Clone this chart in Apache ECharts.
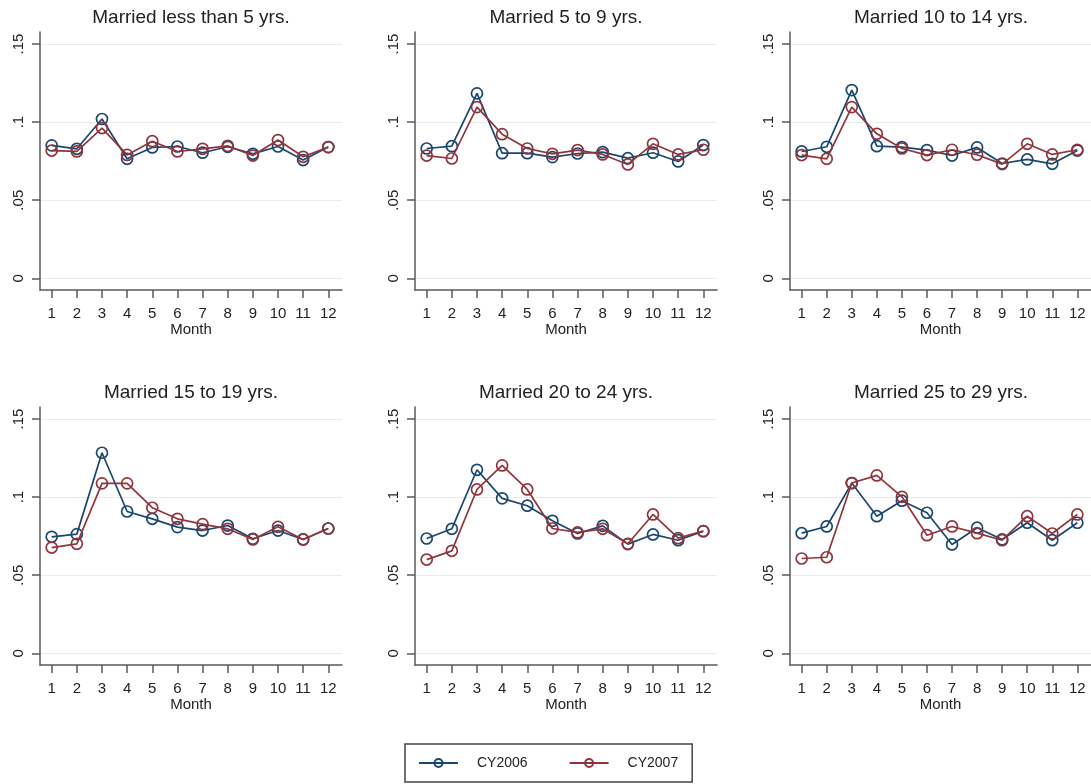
<!DOCTYPE html>
<html><head><meta charset="utf-8">
<script src="https://cdn.jsdelivr.net/npm/echarts@6/dist/echarts.min.js"></script>
<style>html,body{margin:0;padding:0;background:#fff}#c{width:1091px;height:784px}</style>
</head><body><div id="c"></div>
<script>
const months = [1,2,3,4,5,6,7,8,9,10,11,12];
const yTicks = [0, 0.05, 0.1, 0.15];
const panelTitles = ['Married less than 5 yrs.','Married 5 to 9 yrs.','Married 10 to 14 yrs.','Married 15 to 19 yrs.','Married 20 to 24 yrs.','Married 25 to 29 yrs.'];
const seriesNames = ['CY2006','CY2007'];

const lt5_2006   = [0.0851,0.0829,0.1020,0.0765,0.0838,0.0844,0.0804,0.0842,0.0797,0.0844,0.0757,0.0840];
const lt5_2007   = [0.0818,0.0812,0.0962,0.0790,0.0878,0.0812,0.0829,0.0848,0.0786,0.0885,0.0778,0.0840];
const y5to9_2006 = [0.0831,0.0846,0.1184,0.0801,0.0801,0.0776,0.0799,0.0808,0.0769,0.0804,0.0748,0.0853];
const y5to9_2007 = [0.0786,0.0767,0.1096,0.0923,0.0831,0.0797,0.0821,0.0793,0.0729,0.0861,0.0793,0.0823];
const y10to14_2006 = [0.0812,0.0842,0.1205,0.0846,0.0840,0.0821,0.0786,0.0838,0.0735,0.0761,0.0733,0.0818];
const y10to14_2007 = [0.0789,0.0765,0.1096,0.0925,0.0831,0.0789,0.0823,0.0791,0.0731,0.0861,0.0793,0.0823];
const y15to19_2006 = [0.0746,0.0763,0.1284,0.0908,0.0861,0.0808,0.0786,0.0818,0.0733,0.0786,0.0729,0.0799];
const y15to19_2007 = [0.0677,0.0701,0.1088,0.1088,0.0932,0.0861,0.0827,0.0797,0.0729,0.0810,0.0729,0.0799];
const y20to24_2006 = [0.0735,0.0797,0.1175,0.0992,0.0945,0.0848,0.0767,0.0816,0.0699,0.0761,0.0724,0.0782];
const y20to24_2007 = [0.0600,0.0656,0.1049,0.1203,0.1049,0.0799,0.0774,0.0797,0.0701,0.0889,0.0737,0.0782];
const y25to29_2006 = [0.0769,0.0812,0.1090,0.0878,0.0977,0.0900,0.0697,0.0804,0.0729,0.0836,0.0724,0.0836];
const y25to29_2007 = [0.0607,0.0615,0.1090,0.1139,0.1002,0.0756,0.0812,0.0769,0.0724,0.0878,0.0767,0.0889];

const panelData = [
  [y_(lt5_2006), y_(lt5_2007)],
  [y_(y5to9_2006), y_(y5to9_2007)],
  [y_(y10to14_2006), y_(y10to14_2007)],
  [y_(y15to19_2006), y_(y15to19_2007)],
  [y_(y20to24_2006), y_(y20to24_2007)],
  [y_(y25to29_2006), y_(y25to29_2007)]
];
function y_(arr) { return arr.map((v, i) => [months[i], v]); }

const colors = ['#1a476f', '#90353b'];
const axisColor = '#5a5a5a';
const textColor = '#222';
const FONT = 'Liberation Sans, Arial, sans-serif';

const lefts = [40, 415, 790];
const tops = [32, 407];
const gw = 302, gh = 258;

const grids = [], xAxes = [], yAxes = [], titles = [], series = [];
for (let p = 0; p < 6; p++) {
  const col = p % 3, row = Math.floor(p / 3);
  grids.push({left: lefts[col], top: tops[row], width: gw, height: gh, containLabel: false});
  titles.push({
    text: panelTitles[p], left: lefts[col] + gw / 2, top: tops[row] - 24, textAlign: 'center', padding: 0,
    textStyle: {fontSize: 19, fontWeight: 'normal', color: textColor, fontFamily: FONT}
  });
  xAxes.push({
    gridIndex: p, type: 'value', min: 0.535, max: 12.545,
    axisLine: {show: true, onZero: false, lineStyle: {color: axisColor, width: 1.5}},
    axisTick: {show: true, length: 8, customValues: months, lineStyle: {color: axisColor, width: 1.5}},
    axisLabel: {fontSize: 15, color: textColor, margin: 16, fontFamily: FONT, customValues: months, showMinLabel: true, showMaxLabel: true},
    splitLine: {show: false},
    name: 'Month', nameLocation: 'middle', nameGap: 31,
    nameTextStyle: {fontSize: 15, color: textColor, fontFamily: FONT}
  });
  yAxes.push({
    gridIndex: p, type: 'value', min: -0.0075, max: 0.1577,
    axisLine: {show: true, onZero: false, lineStyle: {color: axisColor, width: 1.5}},
    axisTick: {show: true, length: 8, customValues: yTicks, lineStyle: {color: axisColor, width: 1.5}},
    axisLabel: {
      fontSize: 15, color: textColor, margin: 14, rotate: 90, fontFamily: FONT, customValues: yTicks,
      formatter: v => Math.abs(v) < 1e-9 ? '0' : String(+(+v).toFixed(2)).replace(/^0/, '')
    },
    splitLine: {show: true, lineStyle: {color: '#ebebeb', width: 1.2}}
  });
  for (let s = 0; s < 2; s++) {
    series.push({
      name: seriesNames[s], type: 'line', xAxisIndex: p, yAxisIndex: p,
      data: panelData[p][s],
      symbol: 'circle', symbolSize: 11,
      itemStyle: {color: 'rgba(255,255,255,0)', borderColor: colors[s], borderWidth: 1.7},
      lineStyle: {color: colors[s], width: 1.7},
      emphasis: {disabled: true},
      z: 2 + s
    });
  }
}

const chart = echarts.init(document.getElementById('c'), null, {renderer: 'canvas'});
chart.setOption({
  animation: false,
  backgroundColor: '#fff',
  textStyle: {fontFamily: FONT},
  title: titles,
  grid: grids,
  xAxis: xAxes,
  yAxis: yAxes,
  legend: {
    data: seriesNames, left: 405, top: 744, orient: 'horizontal',
    itemWidth: 39, itemHeight: 10, itemGap: 41,
    padding: [12, 14, 12, 13],
    borderColor: '#444', borderWidth: 1.5,
    textStyle: {fontSize: 14, color: textColor, fontFamily: FONT, padding: [0, 0, 0, 14]}
  },
  series: series
});
</script></body></html>
